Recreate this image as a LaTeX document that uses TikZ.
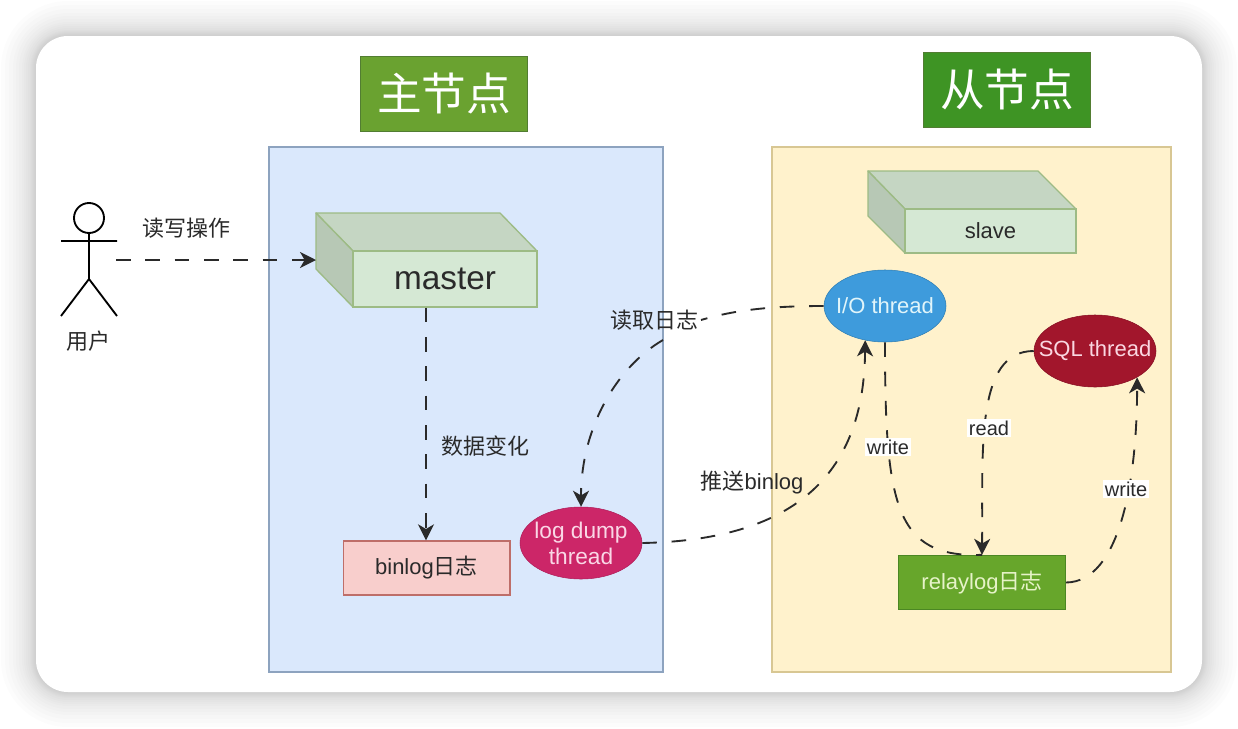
\documentclass[tikz,border=0pt]{standalone}
\usepackage{fontspec}
\setmainfont{Liberation Sans}
\newfontfamily\cjk{Noto Sans CJK SC}
\usetikzlibrary{shapes.geometric,arrows.meta}
\definecolor{masterblue}{HTML}{DAE8FC}
\definecolor{masteredge}{HTML}{8DA3BF}
\definecolor{slaveyellow}{HTML}{FFF2CC}
\definecolor{slaveedge}{HTML}{D8C793}
\definecolor{cubefront}{HTML}{D5E8D4}
\definecolor{cubetop}{HTML}{C5D6C3}
\definecolor{cubeside}{HTML}{B7C8B5}
\definecolor{cubeedge}{HTML}{9DBB85}
\definecolor{inktext}{HTML}{2A2A2A}
\definecolor{mastertitle}{RGB}{106,162,48}
\definecolor{slavetitle}{RGB}{62,148,36}
\definecolor{titleedge}{RGB}{82,125,50}

\begin{document}
\begin{tikzpicture}[
    x=0.75pt, y=-0.75pt,
    title/.style={rectangle, draw=titleedge, line width=1pt, minimum width=125pt, minimum height=56.5pt,
                  text=white, font=\fontsize{33.5}{40}\selectfont\cjk},
    cube/.style={rectangle, draw=cubeedge, fill=cubefront, line width=1pt, text=inktext},
    cubeface/.style={draw=cubeedge, line width=1pt, line join=round},
    thread/.style={ellipse, inner sep=-30pt, minimum width=91.5pt, minimum height=54pt,
                   align=center, font=\fontsize{16.5}{19.5}\selectfont},
    logbox/.style={rectangle, minimum width=125pt, minimum height=40.5pt,
                   font=\fontsize{16.5}{20}\selectfont},
    flow/.style={dash pattern=on 11pt off 11pt, line width=1.4pt, color=inktext},
    tip/.style={-{Stealth[length=12pt,width=12pt,inset=3.5pt]}},
    flowlabel/.style={font=\fontsize{16.5}{20}\selectfont, text=inktext, inner sep=0pt},
    tag/.style={font=\fontsize{15}{18}\selectfont, text=inktext, fill=white, inner sep=1.5pt}
]
\useasboundingbox (0,0) rectangle (1238,728);

% card and its soft shadow
\foreach \spread in {1,2,3,4,5,6,8,10,12,14,17,20,23,27,31,35}
    \fill[black, opacity=0.011, rounded corners={24pt+0.75pt*\spread}]
        (36-\spread,36-\spread) rectangle (1202+\spread,692+\spread);
\fill[white, rounded corners=24pt] (36,36) rectangle (1202,692);

% two hosts
\draw[fill=masterblue, draw=masteredge, line width=1.2pt] (269,147) rectangle (663,672);
\draw[fill=slaveyellow, draw=slaveedge, line width=1.2pt] (772,147) rectangle (1171,672);

\node[title, fill=mastertitle] (master-title) at (444,94) {主节点};
\node[title, fill=slavetitle] (slave-title) at (1007,90) {从节点};

% master cube
\draw[cubeface, fill=cubetop] (316,213) -- (500,213) -- (537,251) -- (353,251) -- cycle;
\draw[cubeface, fill=cubeside] (316,213) -- (353,251) -- (353,307) -- (316,269) -- cycle;
\node[cube, minimum width=138pt, minimum height=42pt, font=\fontsize{25}{30}\selectfont] (master) at (445,279) {master};
\coordinate (master-in) at (316,260);

% slave cube
\draw[cubeface, fill=cubetop] (868,171) -- (1038,171) -- (1076,209) -- (905,209) -- cycle;
\draw[cubeface, fill=cubeside] (868,171) -- (905,209) -- (905,253) -- (868,216) -- cycle;
\node[cube, minimum width=128.25pt, minimum height=33pt, font=\fontsize{16.5}{20}\selectfont] (slave) at (990.5,231) {slave};

% logs and threads
\node[logbox, fill={rgb,255:red,248;green,206;blue,204}, draw={rgb,255:red,190;green,110;blue,105}, line width=1pt, text=inktext] (binlog) at (426.5,568) {binlog{\cjk 日志}};
\node[logbox, fill={rgb,255:red,103;green,166;blue,43}, draw={rgb,255:red,75;green,135;blue,35}, line width=1pt, text={rgb,255:red,230;green,243;blue,200}] (relaylog) at (982,582.5) {relaylog{\cjk 日志}};
\node[thread, fill={rgb,255:red,204;green,38;blue,104}, draw={rgb,255:red,175;green,30;blue,90}, text={rgb,255:red,250;green,215;blue,230}, font=\fontsize{17}{19.5}\selectfont] (dump) at (581,543) {log dump\\thread};
\node[thread, fill={rgb,255:red,62;green,155;blue,220}, draw={rgb,255:red,45;green,125;blue,180}, text={rgb,255:red,225;green,245;blue,250}] (io) at (885,306) {I/O thread};
\node[thread, fill={rgb,255:red,162;green,22;blue,44}, draw={rgb,255:red,135;green,15;blue,35}, text={rgb,255:red,250;green,215;blue,225}] (sql) at (1095,351) {SQL thread};

% user figure
\draw[line width=1.4pt, color=black] (89,218) circle (15);
\coordinate (user-out) at (116,260);
\draw[line width=1.4pt, color=black] (89,233) -- (89,279) (61,241) -- (117,241) (61,316) -- (89,279) -- (117,316);
\node[flowlabel] (user-label) at (88,341) {\cjk 用户};

% flows
\draw[flow, tip] (user-out) -- (master-in);
\node[flowlabel] (rw-label) at (186,228) {\cjk 读写操作};

\draw[flow, tip] (master.south -| 426,0) -- (binlog.north -| 426,0);
\node[flowlabel] (change-label) at (485,446) {\cjk 数据变化};

\coordinate (read-a) at (701,320);
\coordinate (read-b) at (663,340);
\draw[flow] (io.west) .. controls (770,306) and (735,310) .. (read-a);
\draw[flow, tip] (read-b) .. controls (615,368) and (581,430) .. (dump.north);
\node[flowlabel] (read-label) at (654,320) {\cjk 读取日志};

\draw[flow, tip] (dump.east) .. controls (800,540) and (864,470) .. (io.240);
\node[flowlabel] (push-label) at (752,483) {{\cjk 推送}binlog};

\draw[flow] (io.south) .. controls (885,505) and (895,558) .. (relaylog.north);
\draw[flow, tip] (sql.west) .. controls (975,351) and (983,450) .. (relaylog.north);
\draw[flow, tip] (relaylog.east) .. controls (1120,582) and (1137,480) .. (sql.-32);

\node[tag] (write-io) at (888,447) {write};
\node[tag] (read-sql) at (989,428) {read};
\node[tag] (write-sql) at (1126,489) {write};

\end{tikzpicture}
\end{document}
